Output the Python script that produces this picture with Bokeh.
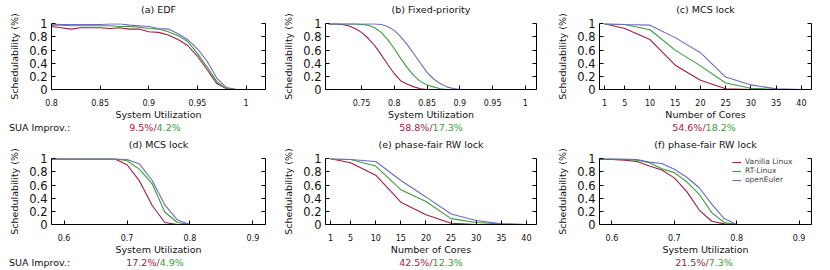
from bokeh.plotting import figure
from bokeh.models import Range1d, LinearAxis, FixedTicker, Legend, LegendItem, Div
from bokeh.layouts import row, column
from bokeh.embed import file_html
from bokeh.resources import INLINE

FONT = "DejaVu Sans"
series_names = ["Vanilla Linux", "RT-Linux", "openEuler"]
colors = ["#a01c40", "#3c9c3c", "#6a6abf"]

# (a) EDF
edf_x = [0.80, 0.81, 0.82, 0.83, 0.84, 0.85, 0.86, 0.87, 0.88, 0.89,
         0.90, 0.91, 0.92, 0.93, 0.94, 0.95, 0.96, 0.97, 0.98, 0.99]
edf_vanilla = [0.96, 0.94, 0.92, 0.94, 0.94, 0.94, 0.93, 0.94, 0.92, 0.92,
               0.88, 0.87, 0.83, 0.76, 0.67, 0.51, 0.30, 0.09, 0.01, 0.0]
edf_rt = [0.98, 0.98, 0.97, 0.97, 0.97, 0.97, 0.97, 0.96, 0.96, 0.95,
          0.93, 0.92, 0.88, 0.82, 0.73, 0.55, 0.34, 0.12, 0.01, 0.0]
edf_oe = [1.0, 0.99, 0.99, 0.99, 0.99, 0.99, 1.0, 1.0, 0.98, 0.97,
          0.96, 0.93, 0.92, 0.85, 0.76, 0.62, 0.43, 0.17, 0.03, 0.0]

# (b) Fixed-priority
fp_x = [0.70, 0.71, 0.72, 0.73, 0.74, 0.75, 0.76, 0.77, 0.78, 0.79, 0.80,
        0.81, 0.82, 0.83, 0.84, 0.85, 0.86, 0.87, 0.88, 0.89, 0.90]
fp_vanilla = [1.0, 1.0, 0.99, 0.97, 0.93, 0.87, 0.78, 0.67, 0.53, 0.38, 0.24,
              0.13, 0.08, 0.04, 0.01, 0.0, 0.0, 0.0, 0.0, 0.0, 0.0]
fp_rt = [1.0, 1.0, 1.0, 1.0, 1.0, 0.99, 0.98, 0.94, 0.87, 0.76, 0.62,
         0.47, 0.33, 0.21, 0.12, 0.07, 0.04, 0.01, 0.0, 0.0, 0.0]
fp_oe = [1.0, 1.0, 1.0, 1.0, 1.0, 1.0, 1.0, 1.0, 0.99, 0.96, 0.90,
         0.80, 0.68, 0.54, 0.40, 0.26, 0.16, 0.09, 0.04, 0.015, 0.0]

# (c) MCS lock vs cores
cores = [1, 5, 10, 15, 20, 25, 30, 35, 40]
mcs_c_vanilla = [1.0, 0.93, 0.76, 0.37, 0.14, 0.01, 0.0, 0.0, 0.0]
mcs_c_rt = [1.0, 0.99, 0.91, 0.60, 0.36, 0.10, 0.02, 0.0, 0.0]
mcs_c_oe = [1.0, 0.99, 0.98, 0.79, 0.56, 0.19, 0.07, 0.01, 0.0]

# (d) MCS lock vs utilization
util_x = [0.58, 0.60, 0.62, 0.64, 0.66, 0.68, 0.70, 0.72, 0.74, 0.76, 0.78, 0.80]
mcs_u_vanilla = [1.0, 1.0, 1.0, 1.0, 1.0, 1.0, 0.91, 0.66, 0.29, 0.03, 0.0, 0.0]
mcs_u_rt = [1.0, 1.0, 1.0, 1.0, 1.0, 1.0, 0.97, 0.84, 0.62, 0.19, 0.03, 0.0]
mcs_u_oe = [1.0, 1.0, 1.0, 1.0, 1.0, 1.0, 0.99, 0.92, 0.67, 0.30, 0.07, 0.0]

# (e) phase-fair RW lock vs cores
pf_c_vanilla = [1.0, 0.94, 0.75, 0.34, 0.15, 0.02, 0.0, 0.0, 0.0]
pf_c_rt = [1.0, 0.99, 0.89, 0.53, 0.35, 0.09, 0.03, 0.01, 0.0]
pf_c_oe = [1.0, 0.99, 0.96, 0.67, 0.42, 0.16, 0.06, 0.01, 0.0]

# (f) phase-fair RW lock vs utilization
pf_u_vanilla = [0.99, 0.99, 0.98, 0.96, 0.89, 0.83, 0.71, 0.50, 0.22, 0.05, 0.01, 0.0]
pf_u_rt = [1.0, 1.0, 0.99, 0.98, 0.94, 0.85, 0.79, 0.65, 0.46, 0.18, 0.03, 0.0]
pf_u_oe = [1.0, 1.0, 1.0, 0.99, 0.95, 0.93, 0.84, 0.72, 0.56, 0.31, 0.09, 0.0]

# ticks
y_ticks = [0, 0.2, 0.4, 0.6, 0.8, 1.0]
y_tick_labels = ["0", "0.2", "0.4", "0.6", "0.8", "1"]
edf_ticks = [0.8, 0.85, 0.9, 0.95, 1.0]
edf_tick_labels = ["0.8", "0.85", "0.9", "0.95", "1"]
fp_ticks = [0.75, 0.8, 0.85, 0.9, 0.95, 1.0]
fp_tick_labels = ["0.75", "0.8", "0.85", "0.9", "0.95", "1"]
core_ticks = [1, 5, 10, 15, 20, 25, 30, 35, 40]
core_tick_labels = ["1", "5", "10", "15", "20", "25", "30", "35", "40"]
util_ticks = [0.6, 0.7, 0.8, 0.9]
util_tick_labels = ["0.6", "0.7", "0.8", "0.9"]

titles = ["(a) EDF", "(b) Fixed-priority", "(c) MCS lock",
          "(d) MCS lock", "(e) phase-fair RW lock", "(f) phase-fair RW lock"]
improv_vanilla = ["9.5%", "58.8%", "54.6%", "17.2%", "42.5%", "21.5%"]
improv_rt = ["4.2%", "17.3%", "18.2%", "4.9%", "12.3%", "7.3%"]
sua_label = "SUA Improv.:"

FIG_H = 122
DIV_H = [13, 12]
COL_W = [275, 275, 278]
BORDER_L = [51, 50, 49]
BORDER_R = [10, 14, 17]
TEXT_CENTER = [155, 156, 154]


def make_panel(idx, col, xs, ys_list, x_range, xticks, xlabels, xtitle, legend=False):
    p = figure(width=COL_W[col], height=FIG_H, title=None,
               x_range=Range1d(*x_range), y_range=Range1d(0, 1.005),
               output_backend="svg", toolbar_location=None,
               min_border_left=BORDER_L[col], min_border_right=BORDER_R[col],
               min_border_top=21, min_border_bottom=30)
    p.outline_line_color = None
    p.xgrid.grid_line_color = None
    p.ygrid.grid_line_color = None
    p.background_fill_color = "white"

    xa = p.below[0]
    ya = p.left[0]

    renderers = []
    for ys, c in zip(ys_list, colors):
        r = p.line(xs, ys, line_color=c, line_width=1.1)
        renderers.append(r)

    xa.ticker = FixedTicker(ticks=xticks)
    xa.major_label_overrides = {t: l for t, l in zip(xticks, xlabels)}
    xa.major_tick_in = 4
    xa.major_tick_out = 0
    xa.minor_tick_line_color = None
    xa.axis_line_color = "black"
    xa.major_tick_line_color = "black"
    xa.major_label_text_font = FONT
    xa.major_label_text_font_size = "8px"
    xa.major_label_text_color = "#111111"
    xa.major_label_standoff = 9
    xa.axis_label = xtitle
    xa.axis_label_text_font = FONT
    xa.axis_label_text_font_size = "9.5px"
    xa.axis_label_text_font_style = "normal"
    xa.axis_label_text_color = "#111111"
    xa.axis_label_standoff = 0

    ya.ticker = FixedTicker(ticks=y_ticks)
    ya.major_label_overrides = {t: l for t, l in zip(y_ticks, y_tick_labels)}
    ya.major_tick_in = 4
    ya.major_tick_out = 0
    ya.minor_tick_line_color = None
    ya.axis_line_color = "black"
    ya.major_tick_line_color = "black"
    ya.major_label_text_font = FONT
    ya.major_label_text_font_size = "11.5px"
    ya.major_label_text_color = "#111111"
    ya.major_label_standoff = 4
    ya.axis_label = "Schedulability (%)"
    ya.axis_label_text_font = FONT
    ya.axis_label_text_font_size = "9.5px"
    ya.axis_label_text_font_style = "normal"
    ya.axis_label_text_color = "#111111"
    ya.axis_label_standoff = 6

    # panel title, drawn as the label of a tick-less top axis
    top = LinearAxis(ticker=FixedTicker(ticks=[]), axis_label=titles[idx],
                     axis_line_color=None, major_tick_line_color=None,
                     minor_tick_line_color=None,
                     major_label_text_font_size="1px", major_label_text_color=None,
                     major_label_standoff=0, major_tick_in=0, major_tick_out=0,
                     axis_label_standoff=9, axis_label_text_font=FONT,
                     axis_label_text_font_size="9.5px",
                     axis_label_text_font_style="normal",
                     axis_label_text_color="#111111")
    p.add_layout(top, "above")

    right = LinearAxis(ticker=FixedTicker(ticks=y_ticks),
                       major_label_text_font_size="1px",
                       major_label_text_color=None,
                       major_tick_in=4, major_tick_out=0,
                       minor_tick_line_color=None,
                       axis_line_color="black", major_tick_line_color="black",
                       major_label_standoff=0)
    p.add_layout(right, "right")

    if legend:
        items = [LegendItem(label=n, renderers=[r]) for n, r in zip(series_names, renderers)]
        lg = Legend(items=items, location=(133, 40), margin=0, padding=0,
                    spacing=0, label_text_font=FONT, label_text_font_size="7.5px",
                    label_height=8, glyph_height=8, glyph_width=9,
                    label_standoff=4, border_line_color=None,
                    background_fill_alpha=0)
        p.add_layout(lg)
    return p


def make_sua(idx, col, row_idx, show_label):
    w = COL_W[col]
    h = DIV_H[row_idx]
    cx = TEXT_CENTER[col]
    font = f"font-family:'{FONT}';font-size:9.5px;line-height:12px;white-space:nowrap;"
    html = f'<div style="position:relative;width:{w}px;height:{h}px;{font}">'
    if show_label:
        html += f'<span style="position:absolute;left:9px;top:0;color:#111111;">{sua_label}</span>'
    html += (f'<div style="position:absolute;left:{cx - 100}px;top:0;width:200px;text-align:center;">'
             f'<span style="color:{colors[0]};">{improv_vanilla[idx]}/</span>'
             f'<span style="color:{colors[1]};">{improv_rt[idx]}</span></div></div>')
    return Div(text=html, width=w, height=h, margin=0)


pa = make_panel(0, 0, edf_x, [edf_vanilla, edf_rt, edf_oe], (0.8, 1.02),
                edf_ticks, edf_tick_labels, "System Utilization")
pb = make_panel(1, 1, fp_x, [fp_vanilla, fp_rt, fp_oe], (0.695, 1.017),
                fp_ticks, fp_tick_labels, "System Utilization")
pc = make_panel(2, 2, cores, [mcs_c_vanilla, mcs_c_rt, mcs_c_oe], (0, 42),
                core_ticks, core_tick_labels, "Number of Cores")
pd = make_panel(3, 0, util_x, [mcs_u_vanilla, mcs_u_rt, mcs_u_oe], (0.58, 0.92),
                util_ticks, util_tick_labels, "System Utilization")
pe = make_panel(4, 1, cores, [pf_c_vanilla, pf_c_rt, pf_c_oe], (0, 42),
                core_ticks, core_tick_labels, "Number of Cores")
pf = make_panel(5, 2, util_x, [pf_u_vanilla, pf_u_rt, pf_u_oe], (0.58, 0.92),
                util_ticks, util_tick_labels, "System Utilization", legend=True)

figs = [[pa, pb, pc], [pd, pe, pf]]
rows_out = []
for r_i in range(2):
    cells = []
    for c_i in range(3):
        idx = r_i * 3 + c_i
        cells.append(column(figs[r_i][c_i], make_sua(idx, c_i, r_i, c_i == 0),
                            spacing=0, margin=0))
    rows_out.append(row(*cells, spacing=0, margin=0))

layout = column(*rows_out, spacing=0, margin=0)

with open("out.html", "w") as f:
    f.write(file_html(layout, INLINE))
